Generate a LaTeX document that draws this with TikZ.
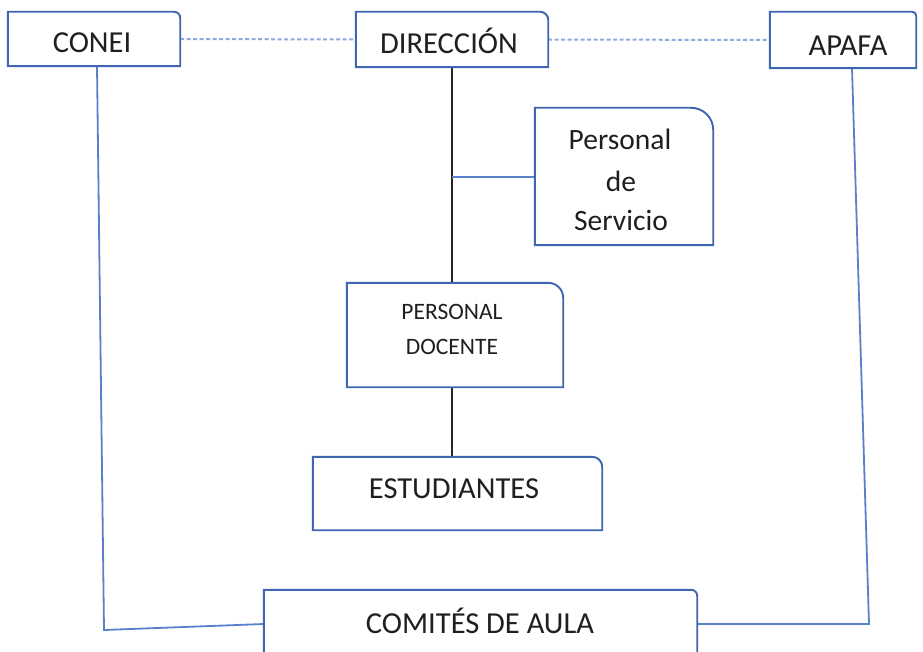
\documentclass[tikz,border=0pt]{standalone}
\usepackage{fontspec}
\setmainfont{Carlito}
\usetikzlibrary{calc}
\definecolor{boxblue}{HTML}{3F66B0}
\definecolor{linkblue}{HTML}{5A80CC}
\definecolor{dashblue}{HTML}{8FAADF}
\definecolor{txt}{HTML}{1F1F1F}
\tikzset{
  boxnode/.style={draw=none, inner sep=0pt, minimum width=#1},
  boxline/.style={draw=boxblue, line width=1.9pt},
  lbl/.style={anchor=base, inner sep=0pt, text=txt, font=\fontsize{30.5}{36}\selectfont},
  smalllbl/.style={lbl, font=\fontsize{23.5}{28}\selectfont},
  dashlink/.style={draw=dashblue, line width=2pt, dash pattern=on 4pt off 2.5pt},
  bluelink/.style={draw=linkblue, line width=1.8pt},
  darklink/.style={draw=black!85, line width=2pt}
}
\newcommand\cornerbox[2]{%
  \draw[boxline] (#1.south west) -- (#1.north west) -- ($(#1.north east)+(-#2,0)$)
    .. controls ($(#1.north east)+(-0.45*#2,0)$) and ($(#1.north east)+(0,0.45*#2)$) ..
    ($(#1.north east)+(0,#2)$) -- (#1.south east) -- cycle;}
\begin{document}
\begin{tikzpicture}[x=1pt,y=-1pt]
\clip (0,0) rectangle (923,652);
\fill[white] (0,0) rectangle (923,652);
% boxes
\node[boxnode=172pt, minimum height=54pt] (conei) at (94,39) {};
\node[boxnode=192pt, minimum height=55pt] (dir) at (452,39.5) {};
\node[boxnode=146pt, minimum height=56pt] (apafa) at (843,40) {};
\node[boxnode=178pt, minimum height=137pt] (serv) at (624,176.5) {};
\node[boxnode=216pt, minimum height=104pt] (doc) at (455,335) {};
\node[boxnode=289pt, minimum height=73pt] (est) at (457.5,493.5) {};
\node[boxnode=433pt, minimum height=80pt] (com) at (480.5,630) {};
% labels
\node[lbl] (t-conei) at (92,53) {CONEI};
\node[lbl] (t-dir) at (449,54) {DIRECCIÓN};
\node[lbl] (t-apafa) at (848,56) {APAFA};
\node[lbl, font=\fontsize{29.5}{34}\selectfont] (t-serv1) at (620,150) {Personal};
\node[lbl, font=\fontsize{29.5}{34}\selectfont] (t-serv2) at (621,192) {de};
\node[lbl, font=\fontsize{29.5}{34}\selectfont] (t-serv3) at (621,231) {Servicio};
\node[smalllbl] (t-doc1) at (452,319) {PERSONAL};
\node[smalllbl] (t-doc2) at (452,354) {DOCENTE};
\node[lbl] (t-est) at (454,498) {ESTUDIANTES};
\node[lbl] (t-com) at (480,633) {COMITÉS DE AULA};
% coordinates for bends
\coordinate (j1) at (452,177);
\coordinate (cb) at (104,630);
\coordinate (ab) at (869,624);
% connectors
\draw[dashlink] (conei.east) -- (dir.west);
\draw[dashlink] (dir.east) -- (apafa.west);
\draw[darklink] (dir.south) -- (doc.north -| dir.south);
\draw[bluelink] (j1) -- (j1 -| serv.west);
\draw[darklink] (doc.south -| dir.south) -- (est.north -| dir.south);
\draw[bluelink] ([xshift=3pt]conei.south) -- (cb) -- (com.west |- 0,624);
\draw[bluelink] (852,68) -- (ab) -- (com.east |- ab);
% boxes drawn
\cornerbox{conei}{6}
\cornerbox{dir}{8}
\cornerbox{apafa}{4}
\cornerbox{serv}{22}
\cornerbox{doc}{15}
\cornerbox{est}{10}
\cornerbox{com}{6}
\end{tikzpicture}
\end{document}
